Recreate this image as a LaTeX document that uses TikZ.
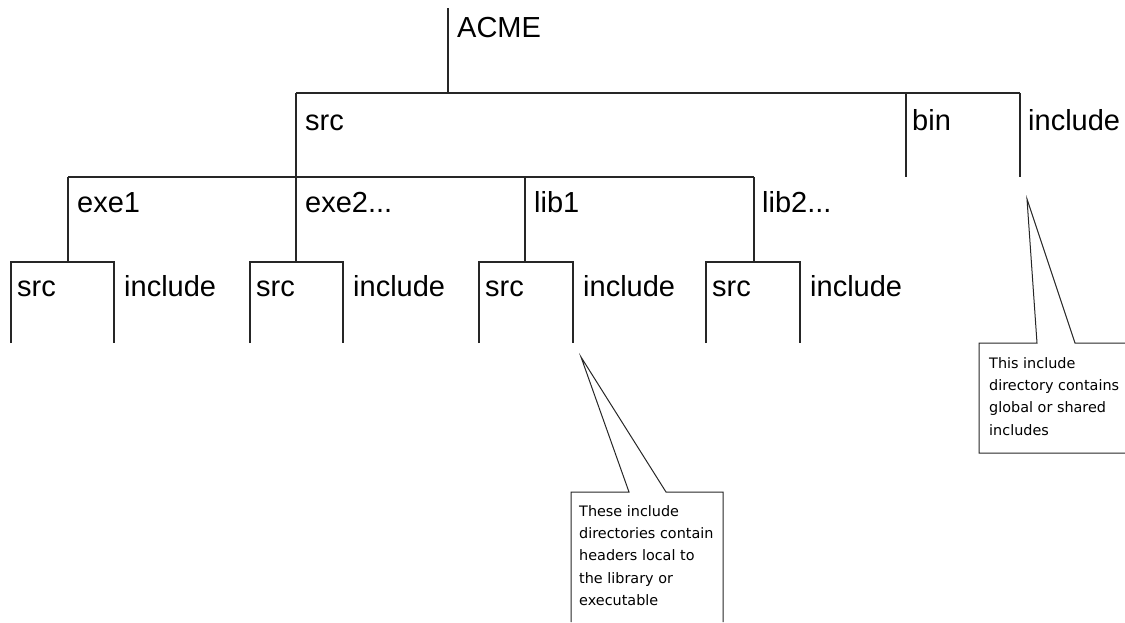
\documentclass[tikz,border=0pt]{standalone}
\usepackage{fontspec}
\setmainfont{Liberation Sans}
\newfontfamily\notefamily{DejaVu Sans}
\newcommand\dirfont{\fontsize{29}{34}\selectfont}
\newcommand\notefont{\notefamily\fontsize{14.4}{22.3}\selectfont}
\begin{document}
\begin{tikzpicture}[x=1pt,y=-1pt,
  tree/.style={line width=1.1pt,draw=black!85},
  callout/.style={line width=1pt,draw=black!85},
  dirlabel/.style={anchor=base west,inner sep=0pt,font=\dirfont},
  notetext/.style={anchor=north west,inner sep=0pt,align=left,font=\notefont}]
\useasboundingbox (0,0) rectangle (1125,622);

% skeleton points of the tree
\coordinate (acmeTop) at (448,8);
\coordinate (acmeJoin) at (448,93);
\coordinate (h1L) at (296,93);
\coordinate (h1R) at (1020,93);
\coordinate (binTop) at (906,93);
\coordinate (binEnd) at (906,177);
\coordinate (incEnd) at (1020,177);
\coordinate (srcEnd) at (296,262);
\coordinate (h2L) at (68,177);
\coordinate (h2R) at (754,177);
\coordinate (exeOneEnd) at (68,262);
\coordinate (libOneTop) at (525,177);
\coordinate (libOneEnd) at (525,262);
\coordinate (libTwoEnd) at (754,262);

% top levels
\draw[tree] (acmeTop) -- (acmeJoin);
\draw[tree] (h1L) -- (h1R);
\draw[tree] (binTop) -- (binEnd);
\draw[tree] (h1R) -- (incEnd);
\draw[tree] (h1L) -- (srcEnd);
\draw[tree] (h2L) -- (h2R);
\draw[tree] (h2L) -- (exeOneEnd);
\draw[tree] (libOneTop) -- (libOneEnd);
\draw[tree] (h2R) -- (libTwoEnd);

\node[dirlabel] (acme) at (457,37) {ACME};
\node[dirlabel] (src) at (305,130) {src};
\node[dirlabel] (bin) at (912,130) {bin};
\node[dirlabel] (include) at (1028,130) {include};
\node[dirlabel] (exe1) at (77,212) {exe1};
\node[dirlabel] (exe2) at (305,212) {exe2...};
\node[dirlabel] (lib1) at (534,212) {lib1};
\node[dirlabel] (lib2) at (762,212) {lib2...};

% src / include pairs under each project
\foreach \a/\b/\n in {11/114/g1,250/343/g2,479/573/g3,706/800/g4}{
  \coordinate (\n sb) at (\a,343);
  \coordinate (\n st) at (\a,262);
  \coordinate (\n it) at (\b,262);
  \coordinate (\n ib) at (\b,343);
  \draw[tree] (\n sb) -- (\n st) -- (\n it) -- (\n ib);
  \node[dirlabel] (\n src) at (\a+6,296) {src};
  \node[dirlabel] (\n inc) at (\b+10,296) {include};
}

% callout for the local include directories
\coordinate (tipA) at (581,357);
\draw[callout] (571,622) -- (571,492) -- (629,492) -- (tipA) -- (666,492) -- (723,492) -- (723,622);
\node[notetext] (noteA) at (579,505) {These include\\directories contain\\headers local to\\the library or\\executable};

% callout for the shared include directory
\coordinate (tipB) at (1027,199);
\draw[callout] (1125,453) -- (979,453) -- (979,343) -- (1037,343) -- (tipB) -- (1075,343) -- (1125,343);
\node[notetext] (noteB) at (989,357) {This include\\directory contains\\global or shared\\includes};
\end{tikzpicture}
\end{document}
